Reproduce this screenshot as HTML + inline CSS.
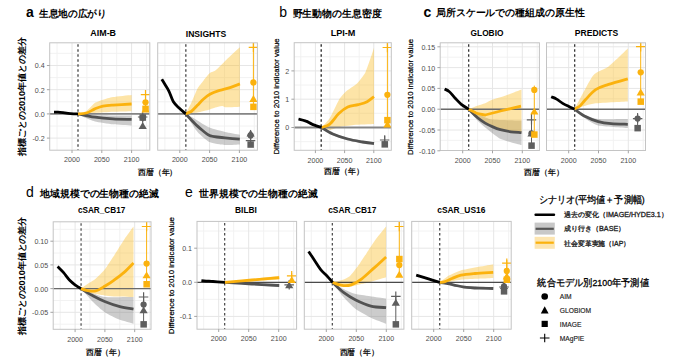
<!DOCTYPE html>
<html><head><meta charset="utf-8"><style>
html,body{margin:0;padding:0;background:#fff;}
svg{display:block;}
text{font-family:"Liberation Sans", sans-serif;}
</style></head><body>
<svg width="680" height="362" viewBox="0 0 680 362">
<rect width="680" height="362" fill="#fff"/>
<clipPath id="pa1"><rect x="49.7" y="42.8" width="100.1" height="107.4"/></clipPath>
<path d="M57.1,42.8 V150.2 M86.9,42.8 V150.2 M116.7,42.8 V150.2 M146.5,42.8 V150.2 M49.7,53.4 H149.8 M49.7,77.6 H149.8 M49.7,101.8 H149.8 M49.7,126.0 H149.8" stroke="#F0F0F0" stroke-width="0.9" fill="none"/>
<path d="M72.0,42.8 V150.2 M101.8,42.8 V150.2 M131.6,42.8 V150.2 M49.7,65.5 H149.8 M49.7,89.7 H149.8 M49.7,113.9 H149.8 M49.7,138.1 H149.8" stroke="#E6E6E6" stroke-width="1" fill="none"/>
<g clip-path="url(#pa1)">
<path d="M78.0,113.9 C79.7,114.0 91.5,114.8 95.0,115.0 C98.5,115.2 109.3,115.4 113.0,115.5 C116.7,115.6 129.7,115.6 131.6,115.6 L131.6,125.5 C129.7,125.4 116.7,124.7 113.0,124.3 C109.3,123.9 97.7,122.0 95.0,121.4 C92.3,120.8 87.7,118.8 86.0,118.0 C84.3,117.2 78.8,114.3 78.0,113.9 Z" fill="rgb(120,120,120)" fill-opacity="0.38"/>
<path d="M78.0,113.9 C78.9,113.6 84.9,112.1 86.6,111.0 C88.3,109.9 93.2,104.2 94.8,103.1 C96.4,102.0 101.2,100.4 103.0,99.8 C104.8,99.2 110.1,97.5 113.0,97.0 C115.9,96.5 129.7,95.1 131.6,94.9 L131.6,111.2 C129.7,111.3 116.7,111.6 113.0,111.8 C109.3,112.0 98.3,112.8 94.8,113.0 C91.3,113.2 79.7,113.8 78.0,113.9 Z" fill="rgb(250,188,36)" fill-opacity="0.4"/>
<path d="M49.7,113.9 H149.8" stroke="#858585" stroke-width="1.9"/>
<path d="M78.0,44.3 V150.2" stroke="#666" stroke-width="1.6" stroke-dasharray="2.5 2.5"/>
<path d="M78.0,113.9 C79.3,114.2 83.2,115.0 86.0,115.5 C88.8,116.0 90.5,116.6 95.0,117.2 C99.5,117.8 106.9,118.5 113.0,118.9 C119.1,119.3 128.5,119.3 131.6,119.4" stroke="#525252" stroke-width="2.8" fill="none" stroke-linecap="butt"/>
<path d="M78.0,113.9 C79.4,113.8 83.8,113.8 86.6,113.0 C89.4,112.2 92.1,110.1 94.8,108.9 C97.5,107.8 100.0,106.7 103.0,106.1 C106.0,105.5 108.2,105.4 113.0,105.1 C117.8,104.8 128.5,104.2 131.6,104.0" stroke="#FBB20E" stroke-width="2.8" fill="none"/>
<path d="M54.0,112.1 C54.7,112.1 56.5,112.0 58.0,112.1 C59.5,112.2 60.9,112.4 63.0,112.7 C65.1,113.0 68.0,113.5 70.5,113.7 C73.0,113.9 76.8,113.9 78.0,113.9" stroke="#000" stroke-width="2.8" fill="none"/>
<path d="M142.7,117.0 V126.3" stroke="#5E5E5E" stroke-width="1"/>
<path d="M142.7,122.0 L138.6,128.9 L146.8,128.9 Z" fill="#5E5E5E"/>
<circle cx="142.7" cy="117.5" r="3.14" fill="#5E5E5E"/>
<rect x="139.5" y="114.3" width="6.5" height="6.5" fill="#5E5E5E"/>
<path d="M137.9,117.0 H147.4 M142.7,112.2 V121.8" stroke="#5E5E5E" stroke-width="1.2" fill="none"/>
<path d="M145.5,94.7 V110.0" stroke="#FBB20E" stroke-width="1"/>
<path d="M145.5,105.7 L141.4,112.6 L149.6,112.6 Z" fill="#FBB20E"/>
<rect x="142.3" y="105.6" width="6.5" height="6.5" fill="#FBB20E"/>
<circle cx="145.5" cy="102.3" r="3.14" fill="#FBB20E"/>
<path d="M140.8,94.7 H150.2 M145.5,90.0 V99.5" stroke="#FBB20E" stroke-width="1.2" fill="none"/>
</g>
<rect x="49.7" y="42.8" width="100.1" height="107.4" fill="none" stroke="#C4C4C4" stroke-width="1"/>
<text x="103.2" y="35.8" font-size="9" font-weight="bold" text-anchor="middle" textLength="25.7" lengthAdjust="spacingAndGlyphs">AIM-B</text>
<text x="72.0" y="162.4" font-size="7.1" fill="#4d4d4d" text-anchor="middle">2000</text>
<text x="101.8" y="162.4" font-size="7.1" fill="#4d4d4d" text-anchor="middle">2050</text>
<text x="131.6" y="162.4" font-size="7.1" fill="#4d4d4d" text-anchor="middle">2100</text>
<text x="44.7" y="68.4" font-size="7.1" fill="#4d4d4d" text-anchor="end">0.4</text>
<text x="44.7" y="92.6" font-size="7.1" fill="#4d4d4d" text-anchor="end">0.2</text>
<text x="44.7" y="116.8" font-size="7.1" fill="#4d4d4d" text-anchor="end">0.0</text>
<text x="44.7" y="141.0" font-size="7.1" fill="#4d4d4d" text-anchor="end">-0.2</text>
<path d="M72.0,150.2 V153.0 M101.8,150.2 V153.0 M131.6,150.2 V153.0 M46.9,65.5 H49.7 M46.9,89.7 H49.7 M46.9,113.9 H49.7 M46.9,138.1 H49.7" stroke="#9a9a9a" stroke-width="0.9" fill="none"/>
<clipPath id="pa2"><rect x="157.7" y="42.8" width="99.7" height="107.4"/></clipPath>
<path d="M164.9,42.8 V150.2 M194.7,42.8 V150.2 M224.5,42.8 V150.2 M254.3,42.8 V150.2 M157.7,53.4 H257.4 M157.7,77.6 H257.4 M157.7,101.8 H257.4 M157.7,126.0 H257.4" stroke="#F0F0F0" stroke-width="0.9" fill="none"/>
<path d="M179.8,42.8 V150.2 M209.6,42.8 V150.2 M239.4,42.8 V150.2 M157.7,65.5 H257.4 M157.7,89.7 H257.4 M157.7,113.9 H257.4 M157.7,138.1 H257.4" stroke="#E6E6E6" stroke-width="1" fill="none"/>
<g clip-path="url(#pa2)">
<path d="M185.6,113.8 C186.5,114.3 192.6,117.5 195.0,118.9 C197.4,120.3 206.5,126.3 209.5,127.6 C212.5,128.9 222.0,131.3 225.0,132.0 C228.0,132.7 238.3,134.5 239.8,134.8 L239.8,144.5 C238.3,144.6 228.0,145.2 225.0,145.0 C222.0,144.8 212.2,143.3 209.5,142.0 C206.8,140.7 199.8,134.2 198.0,132.4 C196.2,130.6 193.2,125.9 192.0,124.0 C190.8,122.1 186.2,114.8 185.6,113.8 Z" fill="rgb(120,120,120)" fill-opacity="0.38"/>
<path d="M185.6,113.8 C186.2,112.7 190.0,105.5 191.2,103.0 C192.4,100.5 196.2,91.0 197.4,88.7 C198.6,86.4 202.3,82.0 203.6,80.4 C204.8,78.8 208.7,74.1 209.9,73.1 C211.1,72.1 214.3,71.3 216.0,70.0 C217.7,68.7 224.0,62.0 226.4,59.7 C228.8,57.4 238.6,48.5 239.9,47.3 L239.9,106.7 C238.6,106.8 228.2,107.4 226.4,107.3 C224.6,107.2 223.3,105.9 222.3,105.9 C221.3,105.9 217.2,107.0 216.0,107.3 C214.8,107.6 211.8,108.9 209.9,109.4 C208.0,109.9 199.8,112.1 197.4,112.5 C195.0,112.9 186.8,113.7 185.6,113.8 Z" fill="rgb(250,188,36)" fill-opacity="0.4"/>
<path d="M157.7,113.9 H257.4" stroke="#858585" stroke-width="1.9"/>
<path d="M185.8,44.3 V150.2" stroke="#666" stroke-width="1.6" stroke-dasharray="2.5 2.5"/>
<path d="M185.6,113.8 C186.0,114.3 189.1,117.5 190.0,118.5 C190.9,119.5 193.8,122.5 195.0,123.7 C196.2,124.9 200.6,128.8 202.0,130.0 C203.4,131.2 208.0,134.8 209.5,135.5 C211.0,136.2 215.4,136.8 217.0,137.0 C218.6,137.2 222.7,137.7 225.0,137.9 C227.3,138.1 238.3,139.1 239.8,139.2" stroke="#525252" stroke-width="2.8" fill="none" stroke-linecap="butt"/>
<path d="M185.6,113.8 C186.5,113.4 189.2,112.9 191.2,111.5 C193.2,110.1 195.3,107.4 197.4,105.3 C199.5,103.2 201.5,100.8 203.6,99.0 C205.7,97.2 207.5,95.7 209.9,94.3 C212.3,92.9 215.3,91.7 218.1,90.8 C220.8,89.9 222.8,89.8 226.4,88.7 C230.0,87.6 237.7,84.7 239.9,83.9" stroke="#FBB20E" stroke-width="2.8" fill="none"/>
<path d="M161.8,79.3 C162.3,80.2 163.8,82.5 165.0,84.5 C166.2,86.5 167.6,88.4 169.0,91.3 C170.4,94.2 171.7,98.9 173.4,101.7 C175.1,104.5 177.4,106.3 179.4,108.3 C181.4,110.3 184.6,112.9 185.6,113.8" stroke="#000" stroke-width="2.8" fill="none"/>
<path d="M250.6,130.0 V145.0" stroke="#5E5E5E" stroke-width="1"/>
<rect x="247.4" y="141.3" width="6.5" height="6.5" fill="#5E5E5E"/>
<path d="M245.8,140.6 H255.3 M250.6,135.8 V145.3" stroke="#5E5E5E" stroke-width="1.2" fill="none"/>
<circle cx="250.6" cy="135.5" r="3.14" fill="#5E5E5E"/>
<path d="M250.6,129.7 L246.5,136.6 L254.7,136.6 Z" fill="#5E5E5E"/>
<path d="M253.4,43.0 V107.0" stroke="#FBB20E" stroke-width="1"/>
<rect x="250.2" y="103.6" width="6.5" height="6.5" fill="#FBB20E"/>
<path d="M253.4,95.0 L249.3,101.9 L257.5,101.9 Z" fill="#FBB20E"/>
<circle cx="253.4" cy="82.5" r="3.14" fill="#FBB20E"/>
<path d="M248.7,47.3 H258.1 M253.4,42.5 V52.0" stroke="#FBB20E" stroke-width="1.2" fill="none"/>
</g>
<rect x="157.7" y="42.8" width="99.7" height="107.4" fill="none" stroke="#C4C4C4" stroke-width="1"/>
<text x="206.0" y="36.5" font-size="9" font-weight="bold" text-anchor="middle" textLength="40.5" lengthAdjust="spacingAndGlyphs">INSIGHTS</text>
<text x="179.8" y="162.4" font-size="7.1" fill="#4d4d4d" text-anchor="middle">2000</text>
<text x="209.6" y="162.4" font-size="7.1" fill="#4d4d4d" text-anchor="middle">2050</text>
<text x="239.4" y="162.4" font-size="7.1" fill="#4d4d4d" text-anchor="middle">2100</text>
<path d="M179.8,150.2 V153.0 M209.6,150.2 V153.0 M239.4,150.2 V153.0" stroke="#9a9a9a" stroke-width="0.9" fill="none"/>
<clipPath id="pb"><rect x="294.2" y="42.7" width="97.1" height="107.6"/></clipPath>
<path d="M300.8,42.7 V150.3 M330.0,42.7 V150.3 M359.2,42.7 V150.3 M388.4,42.7 V150.3 M294.2,56.8 H391.3 M294.2,85.0 H391.3 M294.2,113.3 H391.3 M294.2,141.7 H391.3" stroke="#F0F0F0" stroke-width="0.9" fill="none"/>
<path d="M315.4,42.7 V150.3 M344.6,42.7 V150.3 M373.8,42.7 V150.3 M294.2,70.9 H391.3 M294.2,99.2 H391.3 M294.2,127.5 H391.3" stroke="#E6E6E6" stroke-width="1" fill="none"/>
<g clip-path="url(#pb)">
<path d="M321.5,127.5 C322.6,128.1 330.2,132.0 332.8,133.0 C335.4,134.0 344.7,137.0 347.7,137.8 C350.7,138.6 360.1,140.4 362.7,140.8 C365.3,141.2 372.9,142.1 374.0,142.2 L374.0,145.0 C372.9,144.8 365.3,143.9 362.7,143.4 C360.1,142.9 350.7,141.2 347.7,140.4 C344.7,139.6 335.4,136.5 332.8,135.2 C330.2,133.9 322.6,128.3 321.5,127.5 Z" fill="rgb(120,120,120)" fill-opacity="0.38"/>
<path d="M321.5,127.5 C322.3,126.6 328.1,120.8 329.8,118.1 C331.5,115.4 337.2,102.9 338.8,100.2 C340.4,97.5 344.4,92.9 346.2,91.3 C348.0,89.7 354.8,85.7 356.7,83.8 C358.6,81.9 363.9,75.5 365.6,71.9 C367.3,68.3 373.2,50.4 374.0,48.0 L374.0,124.1 C372.0,124.2 357.2,124.7 353.7,125.0 C350.2,125.3 341.2,126.6 338.8,127.1 C336.4,127.6 331.5,130.1 329.8,130.1 C328.1,130.1 322.3,127.8 321.5,127.5 Z" fill="rgb(250,188,36)" fill-opacity="0.4"/>
<path d="M294.2,127.5 H391.3" stroke="#858585" stroke-width="1.9"/>
<path d="M321.2,44.2 V150.3" stroke="#222" stroke-width="1.3" stroke-dasharray="2.5 2.5"/>
<path d="M321.5,127.5 C323.4,128.6 328.4,132.1 332.8,134.0 C337.2,135.9 342.7,137.7 347.7,139.0 C352.7,140.3 358.3,141.2 362.7,142.0 C367.1,142.8 372.1,143.2 374.0,143.5" stroke="#525252" stroke-width="2.8" fill="none" stroke-linecap="butt"/>
<path d="M321.5,127.5 C322.9,126.9 326.9,126.4 329.8,124.1 C332.7,121.8 335.8,116.4 338.8,113.6 C341.8,110.8 344.5,108.6 347.7,107.1 C350.9,105.6 355.0,105.6 358.2,104.7 C361.4,103.8 364.5,103.1 367.1,101.7 C369.7,100.3 372.9,97.4 374.0,96.6" stroke="#FBB20E" stroke-width="2.8" fill="none"/>
<path d="M298.5,119.0 C299.8,119.3 303.8,120.2 306.0,121.1 C308.2,121.9 309.3,123.0 311.9,124.1 C314.5,125.2 319.9,126.9 321.5,127.5" stroke="#000" stroke-width="2.8" fill="none"/>
<path d="M384.7,136.0 V147.0" stroke="#5E5E5E" stroke-width="1"/>
<rect x="381.5" y="141.1" width="6.5" height="6.5" fill="#5E5E5E"/>
<path d="M379.9,140.0 H389.4 M384.7,135.2 V144.8" stroke="#5E5E5E" stroke-width="1.2" fill="none"/>
<path d="M387.4,43.0 V127.0" stroke="#FBB20E" stroke-width="1"/>
<path d="M387.4,120.7 L383.3,127.6 L391.5,127.6 Z" fill="#FBB20E"/>
<rect x="384.2" y="116.9" width="6.5" height="6.5" fill="#FBB20E"/>
<circle cx="387.4" cy="94.8" r="3.14" fill="#FBB20E"/>
<path d="M382.6,47.5 H392.1 M387.4,42.8 V52.2" stroke="#FBB20E" stroke-width="1.2" fill="none"/>
</g>
<rect x="294.2" y="42.7" width="97.1" height="107.6" fill="none" stroke="#C4C4C4" stroke-width="1"/>
<text x="343.0" y="35.5" font-size="9" font-weight="bold" text-anchor="middle" textLength="24.7" lengthAdjust="spacingAndGlyphs">LPI-M</text>
<text x="315.4" y="162.5" font-size="7.1" fill="#4d4d4d" text-anchor="middle">2000</text>
<text x="344.6" y="162.5" font-size="7.1" fill="#4d4d4d" text-anchor="middle">2050</text>
<text x="373.8" y="162.5" font-size="7.1" fill="#4d4d4d" text-anchor="middle">2100</text>
<text x="289.2" y="73.8" font-size="7.1" fill="#4d4d4d" text-anchor="end">2</text>
<text x="289.2" y="102.1" font-size="7.1" fill="#4d4d4d" text-anchor="end">1</text>
<text x="289.2" y="130.4" font-size="7.1" fill="#4d4d4d" text-anchor="end">0</text>
<path d="M315.4,150.3 V153.1 M344.6,150.3 V153.1 M373.8,150.3 V153.1 M291.4,70.9 H294.2 M291.4,99.2 H294.2 M291.4,127.5 H294.2" stroke="#9a9a9a" stroke-width="0.9" fill="none"/>
<clipPath id="pc1"><rect x="440.2" y="42.8" width="99.2" height="107.7"/></clipPath>
<path d="M447.8,42.8 V150.5 M477.6,42.8 V150.5 M507.4,42.8 V150.5 M537.2,42.8 V150.5 M440.2,57.2 H539.4 M440.2,78.0 H539.4 M440.2,98.8 H539.4 M440.2,119.6 H539.4 M440.2,140.4 H539.4" stroke="#F0F0F0" stroke-width="0.9" fill="none"/>
<path d="M462.7,42.8 V150.5 M492.5,42.8 V150.5 M522.3,42.8 V150.5 M440.2,46.8 H539.4 M440.2,67.6 H539.4 M440.2,88.4 H539.4 M440.2,109.2 H539.4 M440.2,130.0 H539.4" stroke="#E6E6E6" stroke-width="1" fill="none"/>
<g clip-path="url(#pc1)">
<path d="M468.7,109.2 C469.8,109.8 477.7,114.0 480.0,115.0 C482.3,116.0 487.9,119.0 492.0,119.5 C496.1,120.0 518.5,120.4 521.5,120.5 L521.5,145.0 C519.4,144.4 504.4,140.7 500.8,139.0 C497.2,137.3 488.0,129.6 485.6,127.7 C483.2,125.8 478.7,121.8 477.0,120.0 C475.3,118.2 469.5,110.3 468.7,109.2 Z" fill="rgb(120,120,120)" fill-opacity="0.38"/>
<path d="M468.7,109.2 C469.5,108.9 474.9,106.6 476.5,106.0 C478.1,105.4 483.6,103.8 485.2,103.2 C486.8,102.6 490.8,100.3 492.8,99.6 C494.8,98.9 502.1,96.8 505.0,95.8 C507.9,94.8 519.9,90.1 521.5,89.5 L521.5,132.2 C520.5,132.1 513.1,131.5 511.0,131.2 C508.9,130.9 502.2,129.7 500.4,129.2 C498.6,128.7 494.3,127.2 492.8,126.5 C491.3,125.8 486.7,123.4 485.2,122.5 C483.7,121.6 479.2,118.8 477.6,117.5 C476.0,116.2 469.6,110.0 468.7,109.2 Z" fill="rgb(250,188,36)" fill-opacity="0.4"/>
<path d="M440.2,109.2 H539.4" stroke="#6a6a6a" stroke-width="1.4"/>
<path d="M468.7,44.3 V150.5" stroke="#222" stroke-width="1.2" stroke-dasharray="2.5 2.5"/>
<path d="M468.7,109.2 C470.2,110.6 474.9,115.5 477.6,117.8 C480.4,120.1 482.7,121.6 485.2,123.1 C487.7,124.6 490.3,125.8 492.8,126.9 C495.3,128.0 497.4,128.9 500.4,129.7 C503.4,130.5 507.5,131.3 511.0,131.8 C514.5,132.3 519.8,132.5 521.5,132.7" stroke="#525252" stroke-width="2.8" fill="none" stroke-linecap="butt"/>
<path d="M468.7,109.2 C469.1,109.4 475.2,112.7 476.0,113.0 C476.8,113.3 484.0,115.1 485.2,115.0 C486.4,114.9 498.6,111.4 500.4,111.0 C502.2,110.6 520.0,106.4 521.0,106.2" stroke="#FBB20E" stroke-width="2.8" fill="none"/>
<path d="M444.6,89.1 C445.4,89.5 447.3,90.0 449.1,91.5 C450.9,93.0 453.2,96.1 455.2,98.2 C457.2,100.3 459.1,102.5 461.3,104.3 C463.6,106.1 467.5,108.4 468.7,109.2" stroke="#000" stroke-width="2.8" fill="none"/>
<path d="M531.5,112.8 V145.6" stroke="#5E5E5E" stroke-width="1"/>
<rect x="528.3" y="142.4" width="6.5" height="6.5" fill="#5E5E5E"/>
<path d="M531.5,129.7 L527.4,136.6 L535.6,136.6 Z" fill="#5E5E5E"/>
<circle cx="531.5" cy="133.3" r="3.14" fill="#5E5E5E"/>
<path d="M526.8,119.8 H536.2 M531.5,115.0 V124.5" stroke="#5E5E5E" stroke-width="1.2" fill="none"/>
<path d="M534.3,85.6 V134.5" stroke="#FBB20E" stroke-width="1"/>
<rect x="531.1" y="131.3" width="6.5" height="6.5" fill="#FBB20E"/>
<path d="M534.3,107.7 L530.2,114.6 L538.4,114.6 Z" fill="#FBB20E"/>
<circle cx="534.3" cy="89.9" r="3.14" fill="#FBB20E"/>
</g>
<rect x="440.2" y="42.8" width="99.2" height="107.7" fill="none" stroke="#C4C4C4" stroke-width="1"/>
<text x="487.0" y="35.8" font-size="9" font-weight="bold" text-anchor="middle" textLength="32.9" lengthAdjust="spacingAndGlyphs">GLOBIO</text>
<text x="462.7" y="162.7" font-size="7.1" fill="#4d4d4d" text-anchor="middle">2000</text>
<text x="492.5" y="162.7" font-size="7.1" fill="#4d4d4d" text-anchor="middle">2050</text>
<text x="522.3" y="162.7" font-size="7.1" fill="#4d4d4d" text-anchor="middle">2100</text>
<text x="435.2" y="49.7" font-size="7.1" fill="#4d4d4d" text-anchor="end">0.15</text>
<text x="435.2" y="70.5" font-size="7.1" fill="#4d4d4d" text-anchor="end">0.10</text>
<text x="435.2" y="91.3" font-size="7.1" fill="#4d4d4d" text-anchor="end">0.05</text>
<text x="435.2" y="112.1" font-size="7.1" fill="#4d4d4d" text-anchor="end">0.00</text>
<text x="435.2" y="132.9" font-size="7.1" fill="#4d4d4d" text-anchor="end">-0.05</text>
<text x="435.2" y="153.7" font-size="7.1" fill="#4d4d4d" text-anchor="end">-0.10</text>
<path d="M462.7,150.5 V153.3 M492.5,150.5 V153.3 M522.3,150.5 V153.3 M437.4,46.8 H440.2 M437.4,67.6 H440.2 M437.4,88.4 H440.2 M437.4,109.2 H440.2 M437.4,130.0 H440.2 M437.4,150.8 H440.2" stroke="#9a9a9a" stroke-width="0.9" fill="none"/>
<clipPath id="pc2"><rect x="546.5" y="42.8" width="99.0" height="107.7"/></clipPath>
<path d="M553.8,42.8 V150.5 M583.6,42.8 V150.5 M613.4,42.8 V150.5 M643.2,42.8 V150.5 M546.5,57.2 H645.5 M546.5,78.0 H645.5 M546.5,98.8 H645.5 M546.5,119.6 H645.5 M546.5,140.4 H645.5" stroke="#F0F0F0" stroke-width="0.9" fill="none"/>
<path d="M568.7,42.8 V150.5 M598.5,42.8 V150.5 M628.3,42.8 V150.5 M546.5,46.8 H645.5 M546.5,67.6 H645.5 M546.5,88.4 H645.5 M546.5,109.2 H645.5 M546.5,130.0 H645.5" stroke="#E6E6E6" stroke-width="1" fill="none"/>
<g clip-path="url(#pc2)">
<path d="M574.5,109.1 C575.6,109.7 583.0,114.0 585.4,115.0 C587.8,116.0 594.1,118.7 598.3,119.1 C602.5,119.5 624.8,119.1 627.8,119.1 L627.8,128.1 C624.8,127.8 602.5,126.5 598.3,125.5 C594.1,124.5 587.8,120.1 585.4,118.5 C583.0,116.9 575.6,110.0 574.5,109.1 Z" fill="rgb(120,120,120)" fill-opacity="0.38"/>
<path d="M574.5,109.1 C576.4,105.7 589.7,79.7 593.1,75.4 C596.5,71.1 605.1,69.1 608.6,66.4 C612.1,63.7 625.9,50.2 627.8,48.4 L627.8,101.6 C624.3,101.8 598.4,103.0 593.1,103.7 C587.8,104.5 576.4,108.6 574.5,109.1 Z" fill="rgb(250,188,36)" fill-opacity="0.4"/>
<path d="M546.5,109.2 H645.5" stroke="#6a6a6a" stroke-width="1.4"/>
<path d="M574.7,44.3 V150.5" stroke="#222" stroke-width="1.2" stroke-dasharray="2.5 2.5"/>
<path d="M574.5,109.1 C576.3,110.3 581.4,114.5 585.4,116.6 C589.4,118.7 594.0,120.5 598.3,121.7 C602.6,122.9 606.2,123.3 611.1,123.7 C616.0,124.1 625.0,124.2 627.8,124.3" stroke="#525252" stroke-width="2.8" fill="none" stroke-linecap="butt"/>
<path d="M574.5,109.1 C575.4,108.6 578.2,107.5 580.0,106.0 C581.8,104.5 582.8,102.5 585.4,99.8 C588.0,97.1 591.8,92.2 595.7,89.6 C599.6,87.0 603.2,86.2 608.6,84.4 C614.0,82.6 624.6,79.7 627.8,78.8" stroke="#FBB20E" stroke-width="2.8" fill="none"/>
<path d="M551.2,96.7 C552.1,97.1 554.7,98.0 556.6,99.1 C558.5,100.2 560.7,102.2 562.7,103.4 C564.7,104.6 566.8,105.5 568.8,106.4 C570.8,107.4 573.5,108.6 574.5,109.1" stroke="#000" stroke-width="2.8" fill="none"/>
<path d="M637.6,113.0 V128.0" stroke="#5E5E5E" stroke-width="1"/>
<rect x="634.4" y="124.9" width="6.5" height="6.5" fill="#5E5E5E"/>
<circle cx="637.6" cy="118.6" r="3.14" fill="#5E5E5E"/>
<path d="M632.9,118.6 H642.4 M637.6,113.8 V123.3" stroke="#5E5E5E" stroke-width="1.2" fill="none"/>
<path d="M640.7,42.5 V101.6" stroke="#FBB20E" stroke-width="1"/>
<rect x="637.5" y="98.4" width="6.5" height="6.5" fill="#FBB20E"/>
<path d="M640.7,88.6 L636.6,95.5 L644.8,95.5 Z" fill="#FBB20E"/>
<circle cx="640.7" cy="72.3" r="3.14" fill="#FBB20E"/>
<path d="M636.0,46.6 H645.5 M640.7,41.9 V51.4" stroke="#FBB20E" stroke-width="1.2" fill="none"/>
</g>
<rect x="546.5" y="42.8" width="99.0" height="107.7" fill="none" stroke="#C4C4C4" stroke-width="1"/>
<text x="596.5" y="35.8" font-size="9" font-weight="bold" text-anchor="middle" textLength="43.3" lengthAdjust="spacingAndGlyphs">PREDICTS</text>
<text x="568.7" y="162.7" font-size="7.1" fill="#4d4d4d" text-anchor="middle">2000</text>
<text x="598.5" y="162.7" font-size="7.1" fill="#4d4d4d" text-anchor="middle">2050</text>
<text x="628.3" y="162.7" font-size="7.1" fill="#4d4d4d" text-anchor="middle">2100</text>
<path d="M568.7,150.5 V153.3 M598.5,150.5 V153.3 M628.3,150.5 V153.3" stroke="#9a9a9a" stroke-width="0.9" fill="none"/>
<clipPath id="pd"><rect x="53.2" y="221.8" width="97.8" height="107.5"/></clipPath>
<path d="M60.2,221.8 V329.3 M90.0,221.8 V329.3 M119.8,221.8 V329.3 M149.6,221.8 V329.3 M53.2,229.4 H151.0 M53.2,253.1 H151.0 M53.2,276.8 H151.0 M53.2,300.5 H151.0 M53.2,324.2 H151.0" stroke="#F0F0F0" stroke-width="0.9" fill="none"/>
<path d="M75.1,221.8 V329.3 M104.9,221.8 V329.3 M134.7,221.8 V329.3 M53.2,241.2 H151.0 M53.2,264.9 H151.0 M53.2,288.6 H151.0 M53.2,312.3 H151.0" stroke="#E6E6E6" stroke-width="1" fill="none"/>
<g clip-path="url(#pd)">
<path d="M80.9,288.6 C82.1,289.0 90.1,292.2 92.5,293.0 C94.9,293.8 100.6,296.6 104.7,297.0 C108.8,297.4 130.6,297.0 133.5,297.0 L133.5,323.7 C132.1,323.3 122.8,320.9 119.9,319.8 C117.0,318.7 107.4,314.0 104.7,312.2 C102.0,310.4 94.9,303.9 92.5,301.5 C90.1,299.1 82.1,289.9 80.9,288.6 Z" fill="rgb(120,120,120)" fill-opacity="0.38"/>
<path d="M80.9,288.6 C81.5,288.2 84.9,285.8 86.4,284.8 C87.9,283.8 93.8,280.3 95.6,278.8 C97.4,277.3 102.9,271.9 104.7,269.6 C106.5,267.3 111.8,259.0 113.8,256.0 C115.8,253.0 122.4,242.1 124.4,239.2 C126.4,236.2 132.6,227.8 133.5,226.5 L133.5,297.0 C131.5,296.9 116.7,296.6 113.8,296.5 C110.9,296.4 106.5,295.8 104.7,295.5 C102.9,295.2 97.4,294.4 95.6,294.0 C93.8,293.6 87.9,292.0 86.4,291.5 C84.9,291.0 81.5,288.9 80.9,288.6 Z" fill="rgb(250,188,36)" fill-opacity="0.4"/>
<path d="M53.2,288.6 H151.0" stroke="#6a6a6a" stroke-width="1.4"/>
<path d="M81.1,223.3 V329.3" stroke="#777" stroke-width="1.6" stroke-dasharray="2.5 2.5"/>
<path d="M80.9,288.6 C82.8,289.8 88.5,293.4 92.5,295.5 C96.5,297.6 100.1,299.6 104.7,301.5 C109.3,303.4 115.1,305.4 119.9,306.7 C124.7,308.0 131.2,308.7 133.5,309.1" stroke="#525252" stroke-width="2.8" fill="none" stroke-linecap="butt"/>
<path d="M80.9,288.6 C81.8,288.9 84.0,289.9 86.4,290.3 C88.9,290.7 92.5,291.6 95.6,290.9 C98.6,290.2 101.7,288.1 104.7,286.3 C107.7,284.5 110.5,282.7 113.8,280.3 C117.1,277.9 121.1,275.0 124.4,272.1 C127.7,269.2 132.0,264.5 133.5,263.0" stroke="#FBB20E" stroke-width="2.8" fill="none"/>
<path d="M57.6,266.6 C58.6,267.6 61.6,270.4 63.6,272.7 C65.6,275.0 67.7,278.2 69.7,280.3 C71.7,282.4 73.9,284.0 75.8,285.4 C77.7,286.8 80.1,288.1 80.9,288.6" stroke="#000" stroke-width="2.8" fill="none"/>
<path d="M143.6,297.0 V324.3" stroke="#5E5E5E" stroke-width="1"/>
<rect x="140.4" y="321.1" width="6.5" height="6.5" fill="#5E5E5E"/>
<path d="M143.6,306.4 L139.5,313.3 L147.7,313.3 Z" fill="#5E5E5E"/>
<circle cx="143.6" cy="304.6" r="3.14" fill="#5E5E5E"/>
<path d="M138.8,297.0 H148.3 M143.6,292.2 V301.8" stroke="#5E5E5E" stroke-width="1.2" fill="none"/>
<path d="M146.6,222.0 V285.0" stroke="#FBB20E" stroke-width="1"/>
<rect x="143.4" y="281.0" width="6.5" height="6.5" fill="#FBB20E"/>
<path d="M146.6,271.4 L142.5,278.3 L150.7,278.3 Z" fill="#FBB20E"/>
<circle cx="146.6" cy="263.6" r="3.14" fill="#FBB20E"/>
<path d="M141.8,226.5 H151.3 M146.6,221.8 V231.2" stroke="#FBB20E" stroke-width="1.2" fill="none"/>
</g>
<rect x="53.2" y="221.8" width="97.8" height="107.5" fill="none" stroke="#C4C4C4" stroke-width="1"/>
<text x="101.6" y="213.2" font-size="9" font-weight="bold" text-anchor="middle" textLength="47.3" lengthAdjust="spacingAndGlyphs">cSAR_CB17</text>
<text x="75.1" y="341.5" font-size="7.1" fill="#4d4d4d" text-anchor="middle">2000</text>
<text x="104.9" y="341.5" font-size="7.1" fill="#4d4d4d" text-anchor="middle">2050</text>
<text x="134.7" y="341.5" font-size="7.1" fill="#4d4d4d" text-anchor="middle">2100</text>
<text x="48.2" y="244.1" font-size="7.1" fill="#4d4d4d" text-anchor="end">0.10</text>
<text x="48.2" y="267.8" font-size="7.1" fill="#4d4d4d" text-anchor="end">0.05</text>
<text x="48.2" y="291.5" font-size="7.1" fill="#4d4d4d" text-anchor="end">0.00</text>
<text x="48.2" y="315.2" font-size="7.1" fill="#4d4d4d" text-anchor="end">-0.05</text>
<path d="M75.1,329.3 V332.1 M104.9,329.3 V332.1 M134.7,329.3 V332.1 M50.4,241.2 H53.2 M50.4,264.9 H53.2 M50.4,288.6 H53.2 M50.4,312.3 H53.2" stroke="#9a9a9a" stroke-width="0.9" fill="none"/>
<clipPath id="pe1"><rect x="197.0" y="221.4" width="99.6" height="107.8"/></clipPath>
<path d="M203.7,221.4 V329.2 M233.7,221.4 V329.2 M263.7,221.4 V329.2 M293.7,221.4 V329.2 M197.0,231.1 H296.6 M197.0,265.2 H296.6 M197.0,299.4 H296.6" stroke="#F0F0F0" stroke-width="0.9" fill="none"/>
<path d="M218.7,221.4 V329.2 M248.7,221.4 V329.2 M278.7,221.4 V329.2 M197.0,248.2 H296.6 M197.0,282.3 H296.6 M197.0,316.4 H296.6" stroke="#E6E6E6" stroke-width="1" fill="none"/>
<g clip-path="url(#pe1)">
<path d="M224.8,282.3 C227.5,282.4 246.6,282.8 252.0,283.0 C257.4,283.2 276.5,284.2 279.2,284.3 L279.2,286.8 C276.5,286.6 257.4,285.4 252.0,285.0 C246.6,284.6 227.5,282.6 224.8,282.3 Z" fill="rgb(120,120,120)" fill-opacity="0.38"/>
<path d="M224.8,282.3 C227.5,282.0 246.6,279.8 252.0,279.2 C257.4,278.6 276.5,276.1 279.2,275.8 L279.2,279.7 C276.5,279.8 257.4,280.7 252.0,281.0 C246.6,281.3 227.5,282.2 224.8,282.3 Z" fill="rgb(250,188,36)" fill-opacity="0.4"/>
<path d="M197.0,282.3 H296.6" stroke="#222" stroke-width="1.0"/>
<path d="M224.7,222.9 V329.2" stroke="#333" stroke-width="1.1" stroke-dasharray="2.5 2.5"/>
<path d="M224.8,282.3 C229.3,282.6 242.9,283.5 252.0,284.0 C261.1,284.5 274.7,285.2 279.2,285.5" stroke="#525252" stroke-width="2.8" fill="none" stroke-linecap="butt"/>
<path d="M224.8,282.3 C229.3,281.9 242.9,280.8 252.0,280.0 C261.1,279.2 274.7,278.1 279.2,277.7" stroke="#FBB20E" stroke-width="2.8" fill="none"/>
<path d="M201.4,280.6 C203.3,280.8 209.1,281.2 213.0,281.5 C216.9,281.8 222.8,282.2 224.8,282.3" stroke="#000" stroke-width="2.8" fill="none"/>
<path d="M289.2,282.0 V288.0" stroke="#5E5E5E" stroke-width="1"/>
<path d="M289.2,281.4 L285.1,288.3 L293.3,288.3 Z" fill="#5E5E5E"/>
<path d="M284.4,284.9 H293.9 M289.2,280.1 V289.6" stroke="#5E5E5E" stroke-width="1.2" fill="none"/>
<path d="M291.7,273.0 V283.0" stroke="#FBB20E" stroke-width="1"/>
<path d="M291.7,276.2 L287.6,283.1 L295.8,283.1 Z" fill="#FBB20E"/>
<path d="M286.9,275.8 H296.4 M291.7,271.1 V280.6" stroke="#FBB20E" stroke-width="1.2" fill="none"/>
</g>
<rect x="197.0" y="221.4" width="99.6" height="107.8" fill="none" stroke="#C4C4C4" stroke-width="1"/>
<text x="246.0" y="213.2" font-size="9" font-weight="bold" text-anchor="middle" textLength="21.8" lengthAdjust="spacingAndGlyphs">BILBI</text>
<text x="218.7" y="341.4" font-size="7.1" fill="#4d4d4d" text-anchor="middle">2000</text>
<text x="248.7" y="341.4" font-size="7.1" fill="#4d4d4d" text-anchor="middle">2050</text>
<text x="278.7" y="341.4" font-size="7.1" fill="#4d4d4d" text-anchor="middle">2100</text>
<text x="192.0" y="251.1" font-size="7.1" fill="#4d4d4d" text-anchor="end">0.1</text>
<text x="192.0" y="285.2" font-size="7.1" fill="#4d4d4d" text-anchor="end">0.0</text>
<text x="192.0" y="319.3" font-size="7.1" fill="#4d4d4d" text-anchor="end">-0.1</text>
<path d="M218.7,329.2 V332.0 M248.7,329.2 V332.0 M278.7,329.2 V332.0 M194.2,248.2 H197.0 M194.2,282.3 H197.0 M194.2,316.4 H197.0" stroke="#9a9a9a" stroke-width="0.9" fill="none"/>
<clipPath id="pe2"><rect x="304.3" y="221.4" width="99.6" height="107.8"/></clipPath>
<path d="M311.3,221.4 V329.2 M341.3,221.4 V329.2 M371.3,221.4 V329.2 M401.3,221.4 V329.2 M304.3,231.1 H403.9 M304.3,265.2 H403.9 M304.3,299.4 H403.9" stroke="#F0F0F0" stroke-width="0.9" fill="none"/>
<path d="M326.3,221.4 V329.2 M356.3,221.4 V329.2 M386.3,221.4 V329.2 M304.3,248.2 H403.9 M304.3,282.3 H403.9 M304.3,316.4 H403.9" stroke="#E6E6E6" stroke-width="1" fill="none"/>
<g clip-path="url(#pe2)">
<path d="M332.6,282.4 C333.7,283.1 341.2,287.8 343.5,289.0 C345.8,290.2 351.4,293.1 355.7,294.0 C360.0,294.9 383.1,298.1 386.1,298.5 L386.1,323.7 C384.6,323.1 373.9,319.2 370.9,317.7 C367.9,316.2 358.4,311.2 355.7,309.1 C353.0,307.0 345.8,299.7 343.5,297.0 C341.2,294.3 333.7,283.9 332.6,282.4 Z" fill="rgb(120,120,120)" fill-opacity="0.38"/>
<path d="M332.6,282.4 C333.5,282.2 340.3,280.6 342.0,280.0 C343.7,279.4 348.1,277.6 349.7,276.2 C351.3,274.8 356.3,268.3 358.0,266.0 C359.7,263.7 364.6,256.1 366.4,253.4 C368.2,250.7 374.0,241.7 376.0,239.0 C378.0,236.3 385.1,227.8 386.1,226.5 L386.1,277.2 C384.0,277.8 368.3,282.4 364.8,283.3 C361.3,284.2 353.4,286.2 351.1,286.5 C348.8,286.8 343.9,286.9 342.0,286.5 C340.1,286.1 333.5,282.8 332.6,282.4 Z" fill="rgb(250,188,36)" fill-opacity="0.4"/>
<path d="M304.3,282.3 H403.9" stroke="#222" stroke-width="1.0"/>
<path d="M332.3,222.9 V329.2" stroke="#333" stroke-width="1.1" stroke-dasharray="2.5 2.5"/>
<path d="M332.6,282.4 C334.4,284.1 339.6,289.5 343.5,292.4 C347.4,295.3 351.1,297.7 355.7,300.0 C360.3,302.3 365.8,304.8 370.9,306.1 C376.0,307.4 383.6,307.4 386.1,307.6" stroke="#525252" stroke-width="2.8" fill="none" stroke-linecap="butt"/>
<path d="M332.6,282.4 C334.2,282.9 338.9,285.0 342.0,285.4 C345.1,285.8 347.8,285.9 351.1,284.8 C354.4,283.7 358.0,281.6 361.8,278.8 C365.6,276.0 369.8,271.8 373.9,268.1 C377.9,264.5 384.1,258.8 386.1,256.9" stroke="#FBB20E" stroke-width="2.8" fill="none"/>
<path d="M308.6,251.4 C309.6,252.9 312.6,257.5 314.6,260.5 C316.6,263.5 318.7,267.1 320.7,269.6 C322.7,272.1 324.8,273.6 326.8,275.7 C328.8,277.8 331.6,281.3 332.6,282.4" stroke="#000" stroke-width="2.8" fill="none"/>
<path d="M395.8,296.0 V324.3" stroke="#5E5E5E" stroke-width="1"/>
<rect x="392.6" y="321.1" width="6.5" height="6.5" fill="#5E5E5E"/>
<path d="M395.8,298.8 L391.7,305.7 L399.9,305.7 Z" fill="#5E5E5E"/>
<path d="M391.1,296.4 H400.6 M395.8,291.6 V301.1" stroke="#5E5E5E" stroke-width="1.2" fill="none"/>
<path d="M399.3,222.0 V276.0" stroke="#FBB20E" stroke-width="1"/>
<path d="M399.3,270.8 L395.2,277.7 L403.4,277.7 Z" fill="#FBB20E"/>
<circle cx="399.3" cy="265.1" r="3.14" fill="#FBB20E"/>
<rect x="396.1" y="255.8" width="6.5" height="6.5" fill="#FBB20E"/>
<path d="M394.6,226.5 H404.1 M399.3,221.8 V231.2" stroke="#FBB20E" stroke-width="1.2" fill="none"/>
</g>
<rect x="304.3" y="221.4" width="99.6" height="107.8" fill="none" stroke="#C4C4C4" stroke-width="1"/>
<text x="352.3" y="213.2" font-size="9" font-weight="bold" text-anchor="middle" textLength="48.2" lengthAdjust="spacingAndGlyphs">cSAR_CB17</text>
<text x="326.3" y="341.4" font-size="7.1" fill="#4d4d4d" text-anchor="middle">2000</text>
<text x="356.3" y="341.4" font-size="7.1" fill="#4d4d4d" text-anchor="middle">2050</text>
<text x="386.3" y="341.4" font-size="7.1" fill="#4d4d4d" text-anchor="middle">2100</text>
<path d="M326.3,329.2 V332.0 M356.3,329.2 V332.0 M386.3,329.2 V332.0" stroke="#9a9a9a" stroke-width="0.9" fill="none"/>
<clipPath id="pe3"><rect x="411.7" y="221.4" width="99.5" height="107.8"/></clipPath>
<path d="M418.7,221.4 V329.2 M448.7,221.4 V329.2 M478.7,221.4 V329.2 M508.7,221.4 V329.2 M411.7,231.1 H511.2 M411.7,265.2 H511.2 M411.7,299.4 H511.2" stroke="#F0F0F0" stroke-width="0.9" fill="none"/>
<path d="M433.7,221.4 V329.2 M463.7,221.4 V329.2 M493.7,221.4 V329.2 M411.7,248.2 H511.2 M411.7,282.3 H511.2 M411.7,316.4 H511.2" stroke="#E6E6E6" stroke-width="1" fill="none"/>
<g clip-path="url(#pe3)">
<path d="M439.7,282.4 C441.1,282.6 450.7,283.6 453.6,284.0 C456.5,284.4 465.0,286.0 469.0,286.3 C473.0,286.6 490.8,287.1 493.2,287.2 L493.2,289.6 C490.8,289.5 473.0,289.0 469.0,288.6 C465.0,288.2 456.5,286.6 453.6,286.0 C450.7,285.4 441.1,282.8 439.7,282.4 Z" fill="rgb(120,120,120)" fill-opacity="0.38"/>
<path d="M439.7,282.4 C440.6,281.7 446.5,277.0 448.6,275.8 C450.7,274.6 456.4,271.5 460.9,270.4 C465.4,269.2 490.1,264.9 493.3,264.3 L493.3,278.1 C490.1,278.3 465.4,279.3 460.9,279.7 C456.4,280.1 450.7,281.7 448.6,282.0 C446.5,282.3 440.6,282.4 439.7,282.4 Z" fill="rgb(250,188,36)" fill-opacity="0.4"/>
<path d="M411.7,282.3 H511.2" stroke="#222" stroke-width="1.0"/>
<path d="M439.7,222.9 V329.2" stroke="#555" stroke-width="1.4" stroke-dasharray="2.5 2.5"/>
<path d="M439.7,282.4 C441.9,282.8 449.1,284.0 453.2,284.8 C457.2,285.6 459.6,286.5 464.0,287.1 C468.4,287.7 474.5,288.0 479.4,288.2 C484.3,288.4 491.0,288.4 493.3,288.5" stroke="#525252" stroke-width="2.8" fill="none" stroke-linecap="butt"/>
<path d="M439.7,282.4 C440.6,282.3 442.9,282.2 445.0,281.6 C447.1,281.0 449.3,279.6 452.0,278.5 C454.7,277.4 457.2,276.0 461.0,275.2 C464.8,274.4 469.6,274.0 475.0,273.5 C480.4,273.0 490.2,272.6 493.2,272.4" stroke="#FBB20E" stroke-width="2.8" fill="none"/>
<path d="M416.2,275.1 C418.2,275.7 424.6,277.7 428.5,278.9 C432.4,280.1 437.8,281.8 439.7,282.4" stroke="#000" stroke-width="2.8" fill="none"/>
<path d="M504.0,284.0 V292.0" stroke="#5E5E5E" stroke-width="1"/>
<rect x="500.8" y="288.1" width="6.5" height="6.5" fill="#5E5E5E"/>
<path d="M504.0,282.0 L499.9,288.9 L508.1,288.9 Z" fill="#5E5E5E"/>
<circle cx="504.0" cy="286.4" r="3.14" fill="#5E5E5E"/>
<path d="M499.2,287.0 H508.8 M504.0,282.2 V291.8" stroke="#5E5E5E" stroke-width="1.2" fill="none"/>
<path d="M506.8,260.0 V281.0" stroke="#FBB20E" stroke-width="1"/>
<rect x="503.6" y="276.5" width="6.5" height="6.5" fill="#FBB20E"/>
<path d="M506.8,272.5 L502.7,279.4 L510.9,279.4 Z" fill="#FBB20E"/>
<circle cx="506.8" cy="271.0" r="3.14" fill="#FBB20E"/>
<path d="M502.1,263.2 H511.6 M506.8,258.4 V267.9" stroke="#FBB20E" stroke-width="1.2" fill="none"/>
</g>
<rect x="411.7" y="221.4" width="99.5" height="107.8" fill="none" stroke="#C4C4C4" stroke-width="1"/>
<text x="461.3" y="213.2" font-size="9" font-weight="bold" text-anchor="middle" textLength="48.1" lengthAdjust="spacingAndGlyphs">cSAR_US16</text>
<text x="433.7" y="341.4" font-size="7.1" fill="#4d4d4d" text-anchor="middle">2000</text>
<text x="463.7" y="341.4" font-size="7.1" fill="#4d4d4d" text-anchor="middle">2050</text>
<text x="493.7" y="341.4" font-size="7.1" fill="#4d4d4d" text-anchor="middle">2100</text>
<path d="M433.7,329.2 V332.0 M463.7,329.2 V332.0 M493.7,329.2 V332.0" stroke="#9a9a9a" stroke-width="0.9" fill="none"/>
<text x="25.9" y="16.5" font-size="14" font-weight="bold">a</text>
<text x="39.1" y="16.6" font-size="10" font-weight="bold" textLength="67.7" lengthAdjust="spacingAndGlyphs">生息地の広がり</text>
<text x="279.3" y="16.5" font-size="14">b</text>
<text x="292.5" y="16.6" font-size="10" font-weight="bold" textLength="88.9" lengthAdjust="spacingAndGlyphs">野生動物の生息密度</text>
<text x="423.6" y="17.2" font-size="14" font-weight="bold">c</text>
<text x="436.0" y="16.0" font-size="10" font-weight="bold" textLength="148.4" lengthAdjust="spacingAndGlyphs">局所スケールでの種組成の原生性</text>
<text x="25.9" y="197.0" font-size="14">d</text>
<text x="40.0" y="197.4" font-size="10" font-weight="bold" textLength="118.8" lengthAdjust="spacingAndGlyphs">地域規模での生物種の絶滅</text>
<text x="184.9" y="197.0" font-size="14">e</text>
<text x="199.0" y="197.4" font-size="10" font-weight="bold" textLength="118.4" lengthAdjust="spacingAndGlyphs">世界規模での生物種の絶滅</text>
<text x="137.9" y="175.0" font-size="7.6" stroke="#000" stroke-width="0.25" textLength="39.5" lengthAdjust="spacingAndGlyphs">西暦（年）</text>
<text x="324.3" y="174.3" font-size="7.6" stroke="#000" stroke-width="0.25" textLength="39.5" lengthAdjust="spacingAndGlyphs">西暦（年）</text>
<text x="524.1" y="174.8" font-size="7.6" stroke="#000" stroke-width="0.25" textLength="39.5" lengthAdjust="spacingAndGlyphs">西暦（年）</text>
<text x="85.7" y="355.0" font-size="7.6" stroke="#000" stroke-width="0.25" textLength="39.5" lengthAdjust="spacingAndGlyphs">西暦（年）</text>
<text x="339.5" y="355.0" font-size="7.6" stroke="#000" stroke-width="0.25" textLength="39.5" lengthAdjust="spacingAndGlyphs">西暦（年）</text>
<text transform="translate(21.6,96.5) rotate(-90)" font-size="9.2" font-weight="bold" text-anchor="middle" dominant-baseline="central" textLength="118.1" lengthAdjust="spacingAndGlyphs">指標ごとの2010年値との差分</text>
<text transform="translate(21.6,275.9) rotate(-90)" font-size="9.2" font-weight="bold" text-anchor="middle" dominant-baseline="central" textLength="118.2" lengthAdjust="spacingAndGlyphs">指標ごとの2010年値との差分</text>
<text transform="translate(276.2,96.5) rotate(-90)" font-size="8.0" stroke="#000" stroke-width="0.22" text-anchor="middle" dominant-baseline="central" textLength="116.2" lengthAdjust="spacingAndGlyphs">Difference to 2010 indicator value</text>
<text transform="translate(410.6,97.0) rotate(-90)" font-size="8.0" stroke="#000" stroke-width="0.22" text-anchor="middle" dominant-baseline="central" textLength="116.0" lengthAdjust="spacingAndGlyphs">Difference to 2010 indicator value</text>
<text transform="translate(171.0,275.6) rotate(-90)" font-size="8.0" stroke="#000" stroke-width="0.22" text-anchor="middle" dominant-baseline="central" textLength="117.2" lengthAdjust="spacingAndGlyphs">Difference to 2010 indicator value</text>
<text x="538.7" y="203.4" font-size="9.6" stroke="#000" stroke-width="0.3" textLength="106" lengthAdjust="spacingAndGlyphs">シナリオ(平均値＋予測幅)</text>
<path d="M535.6,214.7 H554" stroke="#000" stroke-width="2.4" stroke-linecap="round"/>
<rect x="534.6" y="222.6" width="20.2" height="12" fill="#C8C8C8"/>
<path d="M535.6,228.8 H553.8" stroke="#555" stroke-width="2.2"/>
<rect x="534.6" y="236.8" width="20.2" height="12" fill="#FDE5B0"/>
<path d="M535.6,242.7 H553.8" stroke="#FBB20E" stroke-width="2.2"/>
<text x="564.2" y="217.3" font-size="7.2" fill="#222" stroke="#222" stroke-width="0.3" textLength="103.5" lengthAdjust="spacingAndGlyphs">過去の変化（IMAGE/HYDE3.1）</text>
<text x="564.2" y="230.5" font-size="7.2" fill="#222" stroke="#222" stroke-width="0.3" textLength="61" lengthAdjust="spacingAndGlyphs">成り行き（BASE）</text>
<text x="564.2" y="245.7" font-size="7.2" fill="#222" stroke="#222" stroke-width="0.3" textLength="66" lengthAdjust="spacingAndGlyphs">社会変革実施（IAP）</text>
<text x="537.4" y="286" font-size="9.6" stroke="#000" stroke-width="0.3" textLength="111.4" lengthAdjust="spacingAndGlyphs">統合モデル別2100年予測値</text>
<circle cx="544.7" cy="296.5" r="3.3" fill="#000"/>
<path d="M544.7,306.3 L540.8,313.4 L548.6,313.4 Z" fill="#000"/>
<rect x="541.6" y="320.8" width="6.2" height="6.2" fill="#000"/>
<path d="M539.9,338 H549.5 M544.7,333.8 V342.2" stroke="#000" stroke-width="1.1"/>
<text x="559.8" y="299.0" font-size="6.7" fill="#222" stroke="#222" stroke-width="0.15">AIM</text>
<text x="559.8" y="312.6" font-size="6.7" fill="#222" stroke="#222" stroke-width="0.15">GLOBIOM</text>
<text x="559.8" y="327.0" font-size="6.7" fill="#222" stroke="#222" stroke-width="0.15">IMAGE</text>
<text x="559.8" y="340.6" font-size="6.7" fill="#222" stroke="#222" stroke-width="0.15">MAgPIE</text>
</svg>
</body></html>
